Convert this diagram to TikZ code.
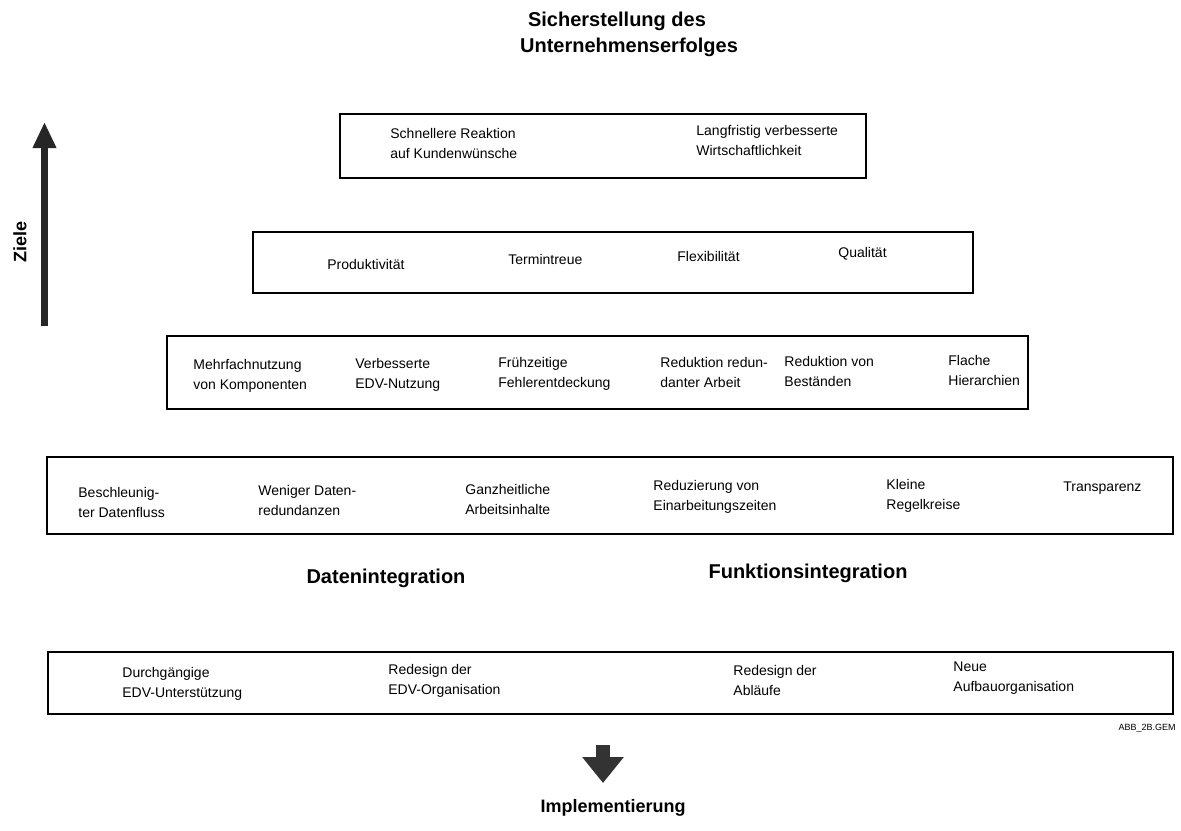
\documentclass[tikz,border=0pt]{standalone}
\usepackage{fontspec}
\setmainfont{Liberation Sans}
\usetikzlibrary{arrows.meta,positioning}
\tikzset{
  ebene/.style={draw=black, line width=0.8pt, inner sep=0pt},
  eintrag/.style={anchor=west, align=left, inner sep=0pt,
    font=\fontsize{7}{10}\selectfont},
  titel/.style={font=\fontsize{10}{13}\selectfont\bfseries, inner sep=0pt},
  pfeilauf/.style={line width=3.5pt, draw=black!85,
    -{Triangle[width=11pt,length=13pt]}},
  pfeilab/.style={line width=7pt, draw=black!80,
    -{Triangle[width=20pt,length=13pt]}}
}

\begin{document}
\begin{tikzpicture}[x=0.5pt,y=-0.5pt]
\useasboundingbox (0,0) rectangle (1181,830);

\node[titel, align=center] (ziel) at (617,34)
  {Sicherstellung des\\ \hspace*{1.2em}Unternehmenserfolges};

% Ebene 1
\node[ebene, minimum width=263pt, minimum height=32pt] (e1) at (603,146) {};
\node[eintrag] (e1-1) at (390,143) {Schnellere Reaktion\\auf Kundenwünsche};
\node[eintrag] (e1-2) at (696,140) {Langfristig verbesserte\\Wirtschaftlichkeit};

% Ebene 2
\node[ebene, minimum width=360pt, minimum height=30.5pt] (e2) at (613,262.5) {};
\node[eintrag] (e2-1) at (327,264) {Produktivität};
\node[eintrag] (e2-2) at (508,259) {Termintreue};
\node[eintrag] (e2-3) at (677,256) {Flexibilität};
\node[eintrag] (e2-4) at (838,254) {Qualität};

% Ebene 3
\node[ebene, minimum width=430.5pt, minimum height=36.5pt] (e3) at (597.5,372.5) {};
\node[eintrag] (e3-1) at (193,376) {Mehrfachnutzung\\von Komponenten};
\node[eintrag] (e3-2) at (355,375) {Verbesserte\\EDV-Nutzung};
\node[eintrag] (e3-3) at (498,374) {Frühzeitige\\Fehlerentdeckung};
\node[eintrag] (e3-4) at (660,372) {Reduktion redun-\\danter Arbeit};
\node[eintrag] (e3-5) at (784,371) {Reduktion von\\Beständen};
\node[eintrag] (e3-6) at (948,370) {Flache\\Hierarchien};

% Ebene 4
\node[ebene, minimum width=563pt, minimum height=38.5pt] (e4) at (610,495.5) {};
\node[eintrag] (e4-1) at (78,502) {Beschleunig-\\ter Datenfluss};
\node[eintrag] (e4-2) at (258,500) {Weniger Daten-\\redundanzen};
\node[eintrag] (e4-3) at (465,499) {Ganzheitliche\\Arbeitsinhalte};
\node[eintrag] (e4-4) at (653,497) {Reduzierung von\\Einarbeitungszeiten};
\node[eintrag] (e4-5) at (886,496) {Kleine\\Regelkreise};
\node[eintrag] (e4-6) at (1063,488) {Transparenz};

\node[titel] (daten) at (386,578) {Datenintegration};
\node[titel] (funktion) at (808,573) {Funktionsintegration};

% Ebene 5
\node[ebene, minimum width=562.5pt, minimum height=31pt] (e5) at (610.5,683) {};
\node[eintrag] (e5-1) at (122,684) {Durchgängige\\EDV-Unterstützung};
\node[eintrag] (e5-2) at (388,681) {Redesign der\\EDV-Organisation};
\node[eintrag] (e5-3) at (733,680) {Redesign der\\Abläufe};
\node[eintrag] (e5-4) at (953,678) {Neue\\Aufbauorganisation};

\node[anchor=east, inner sep=0pt, font=\fontsize{4.5}{5}\selectfont] (datei) at (1176,728) {ABB\_2B.GEM};

% Pfeile
\coordinate (auf-a) at (44.5,326);
\coordinate (auf-b) at (44.5,122);
\draw[pfeilauf] (auf-a) -- (auf-b);
\node[titel, font=\fontsize{9}{11}\selectfont\bfseries, rotate=90] (ziele) at (20,242) {Ziele};

\coordinate (ab-a) at (603,745);
\coordinate (ab-b) at (603,783);
\draw[pfeilab] (ab-a) -- (ab-b);
\node[titel, font=\fontsize{9}{11}\selectfont\bfseries] (impl) at (613,808) {Implementierung};

\end{tikzpicture}
\end{document}
